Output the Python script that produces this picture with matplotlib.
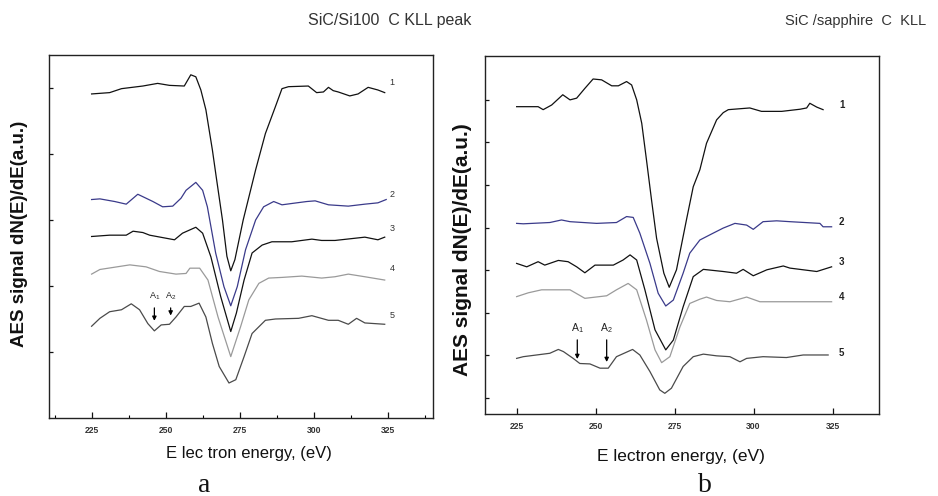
import matplotlib
matplotlib.use('Agg')
import matplotlib.pyplot as plt
from matplotlib.ticker import MultipleLocator

plt.rcParams['font.family'] = ['Liberation Sans', 'DejaVu Sans']
plt.rcParams['mathtext.default'] = 'regular'

# ---- panel a: SiC/Si100, energy (eV) vs dN/dE (a.u.)
a1_x = [224.9, 231.0, 235.0, 242.2, 247.2, 251.2, 256.2, 258.4, 260.1, 261.8,
        263.5, 265.7, 267.0, 269.1, 270.6, 271.9, 273.3, 276.1, 280.3, 283.6,
        287.0, 289.2, 291.4, 298.1, 300.9, 303.2, 304.9, 306.5, 308.2, 312.1,
        314.9, 318.3, 321.6, 323.9]
a1_y = [4.91, 4.93, 4.99, 5.03, 5.07, 5.04, 5.03, 5.20, 5.17, 4.97,
        4.67, 4.06, 3.65, 3.00, 2.45, 2.23, 2.40, 3.00, 3.76, 4.31,
        4.72, 4.99, 5.02, 5.03, 4.93, 4.94, 5.01, 4.96, 4.94, 4.88,
        4.91, 5.01, 4.97, 4.93]
a2_x = [224.9, 227.7, 232.7, 236.6, 240.5, 245.6, 248.9, 252.3, 255.1, 256.8,
        260.1, 262.4, 264.0, 266.8, 269.6, 271.9, 274.1, 276.9, 280.3, 283.0,
        286.4, 289.2, 292.5, 297.6, 300.4, 304.9, 311.6, 317.2, 321.6, 324.4]
a2_y = [3.31, 3.32, 3.28, 3.24, 3.39, 3.28, 3.20, 3.21, 3.33, 3.45,
        3.57, 3.45, 3.20, 2.50, 1.99, 1.70, 1.99, 2.55, 3.00, 3.20,
        3.28, 3.23, 3.25, 3.28, 3.29, 3.23, 3.21, 3.24, 3.26, 3.31]
a3_x = [224.9, 231.0, 236.6, 238.9, 242.2, 244.5, 252.9, 255.6, 260.1, 262.4,
        265.2, 268.5, 271.9, 273.8, 276.4, 279.1, 282.5, 285.8, 292.5, 299.3,
        302.6, 307.1, 317.2, 321.6, 323.9]
a3_y = [2.75, 2.77, 2.77, 2.83, 2.81, 2.77, 2.70, 2.80, 2.89, 2.80,
        2.44, 1.84, 1.31, 1.59, 2.09, 2.50, 2.62, 2.67, 2.67, 2.71,
        2.69, 2.69, 2.74, 2.70, 2.74]
a4_x = [224.9, 227.7, 237.8, 243.3, 247.8, 253.4, 256.8, 258.1, 261.4, 264.2,
        267.6, 271.9, 275.2, 278.0, 281.4, 284.7, 289.2, 295.9, 302.6, 307.1,
        311.6, 317.2, 323.9]
a4_y = [2.18, 2.25, 2.32, 2.29, 2.22, 2.18, 2.19, 2.27, 2.27, 2.09,
        1.53, 0.93, 1.38, 1.79, 2.04, 2.12, 2.13, 2.15, 2.12, 2.14,
        2.18, 2.14, 2.09]
a5_x = [224.9, 227.7, 231.0, 235.0, 238.3, 241.1, 243.9, 246.1, 248.4, 251.2,
        253.4, 256.2, 258.4, 261.2, 263.5, 265.7, 268.0, 271.3, 273.6, 276.4,
        279.1, 283.6, 287.0, 294.8, 299.3, 304.9, 308.2, 311.6, 314.4, 317.2,
        323.9]
a5_y = [1.39, 1.51, 1.61, 1.64, 1.73, 1.64, 1.43, 1.32, 1.41, 1.42,
        1.53, 1.69, 1.69, 1.74, 1.53, 1.13, 0.78, 0.53, 0.58, 0.93,
        1.28, 1.48, 1.50, 1.51, 1.55, 1.48, 1.48, 1.42, 1.51, 1.44,
        1.42]
a_label_y = [5.01, 3.32, 2.80, 2.19, 1.48]
a_arrow_x = [246.1, 251.6]
a_arrow_tip = [1.43, 1.51]
a_arrow_tail = 1.71

# ---- panel b: SiC/sapphire
b1_x = [225.0, 231.8, 233.4, 236.1, 239.6, 241.9, 244.0, 246.6, 249.2, 251.9,
        255.1, 257.2, 259.8, 261.4, 263.0, 264.6, 266.1, 267.7, 269.3, 271.6,
        273.3, 275.6, 278.8, 280.9, 283.0, 285.1, 288.3, 290.4, 292.0, 298.8,
        302.5, 308.9, 314.7, 316.8, 317.8, 320.0, 322.0]
b1_y = [7.84, 7.84, 7.77, 7.88, 8.12, 8.00, 8.04, 8.27, 8.49, 8.47,
        8.33, 8.33, 8.43, 8.35, 8.00, 7.45, 6.59, 5.65, 4.75, 3.93,
        3.60, 4.01, 5.20, 5.96, 6.36, 6.98, 7.53, 7.70, 7.77, 7.81,
        7.73, 7.73, 7.78, 7.81, 7.92, 7.83, 7.77]
b2_x = [225.0, 227.1, 235.5, 239.2, 241.9, 250.3, 256.6, 259.8, 261.9, 264.0,
        267.2, 269.8, 272.2, 274.6, 277.7, 279.8, 283.0, 287.2, 290.4, 294.1,
        297.8, 299.9, 303.0, 307.3, 311.5, 321.0, 322.0, 324.7]
b2_y = [5.10, 5.09, 5.12, 5.18, 5.14, 5.10, 5.12, 5.26, 5.24, 4.87,
        4.16, 3.46, 3.16, 3.30, 3.93, 4.40, 4.71, 4.87, 4.99, 5.10,
        5.06, 4.96, 5.14, 5.16, 5.14, 5.10, 5.02, 5.02]
b3_x = [225.0, 228.2, 231.8, 233.9, 238.2, 241.3, 244.0, 246.6, 249.8, 255.6,
        258.7, 260.9, 263.0, 265.6, 268.8, 272.2, 274.6, 277.7, 280.9, 284.1,
        290.4, 294.6, 296.7, 299.9, 304.2, 309.4, 311.5, 320.0, 324.7]
b3_y = [4.16, 4.08, 4.20, 4.12, 4.23, 4.20, 4.08, 3.94, 4.12, 4.12,
        4.24, 4.36, 4.24, 3.54, 2.60, 2.13, 2.36, 3.14, 3.85, 4.02,
        3.97, 3.93, 4.02, 3.87, 4.01, 4.10, 4.05, 3.97, 4.08]
b4_x = [225.0, 228.7, 232.9, 241.9, 246.6, 253.5, 256.6, 260.3, 263.0, 266.1,
        268.8, 270.9, 273.5, 276.7, 279.8, 283.0, 285.1, 288.3, 292.5, 297.8,
        302.0, 311.5, 315.7, 324.7]
b4_y = [3.38, 3.47, 3.54, 3.54, 3.34, 3.40, 3.54, 3.69, 3.54, 2.83,
        2.13, 1.83, 1.97, 2.67, 3.22, 3.32, 3.37, 3.29, 3.26, 3.37,
        3.26, 3.26, 3.26, 3.26]
b5_x = [225.0, 227.1, 231.3, 235.5, 238.2, 239.8, 242.9, 245.0, 248.2, 251.4,
        254.0, 256.6, 261.7, 264.0, 267.2, 270.3, 271.9, 274.0, 277.7, 280.9,
        284.1, 288.3, 292.5, 295.7, 297.8, 303.0, 310.4, 315.7, 323.6]
b5_y = [1.93, 1.97, 2.01, 2.05, 2.14, 2.09, 1.93, 1.81, 1.80, 1.70,
        1.70, 1.97, 2.14, 2.01, 1.62, 1.19, 1.11, 1.23, 1.74, 1.97,
        2.03, 1.99, 1.97, 1.85, 1.93, 1.97, 1.95, 2.01, 2.01]
b_label_y = [7.88, 5.14, 4.20, 3.38, 2.05]
b_arrow_x = [244.2, 253.5]
b_arrow_tip = [1.85, 1.78]
b_arrow_tail = 2.43

curve_names = ['1', '2', '3', '4', '5']
colors = ['#111111', '#3a3a8a', '#111111', '#9a9a9a', '#4a4a4a']
xticks = [225, 250, 275, 300, 325]

fig = plt.figure(figsize=(9.38, 4.96), dpi=100)
axA = fig.add_axes([0.0522, 0.1573, 0.4094, 0.7318])
axB = fig.add_axes([0.5171, 0.1653, 0.4200, 0.7218])

a_curves = [(a1_x, a1_y), (a2_x, a2_y), (a3_x, a3_y), (a4_x, a4_y), (a5_x, a5_y)]
b_curves = [(b1_x, b1_y), (b2_x, b2_y), (b3_x, b3_y), (b4_x, b4_y), (b5_x, b5_y)]

for (x, y), c in zip(a_curves, colors):
    axA.plot(x, y, color=c, lw=0.9)
for (x, y), c in zip(b_curves, colors):
    axB.plot(x, y, color=c, lw=0.9)

for name, ly in zip(curve_names, a_label_y):
    axA.text(325.5, ly, name, fontsize=6.5, color='#333333', ha='left', va='bottom')
for name, ly in zip(curve_names, b_label_y):
    axB.text(327.0, ly, name, fontsize=7, color='#222222', ha='left', va='center',
             fontweight='bold')

# A1 / A2 arrows
for ax_, xs, tips, tail, fs in [(axA, a_arrow_x, a_arrow_tip, a_arrow_tail, 6.5),
                                (axB, b_arrow_x, b_arrow_tip, b_arrow_tail, 7.5)]:
    for k, (xa, tip) in enumerate(zip(xs, tips)):
        ax_.annotate('', xy=(xa, tip), xytext=(xa, tail),
                     arrowprops=dict(arrowstyle='-|>', color='black', lw=0.9,
                                     mutation_scale=6))
        ax_.text(xa, tail + 0.04, 'A$_{%d}$' % (k + 1), fontsize=fs,
                 color='#222222', ha='center', va='bottom')

axA.set_xlim(210.5, 340.2)
axA.set_ylim(0.0, 5.5)
axA.set_yticks([1, 2, 3, 4, 5])
axA.xaxis.set_minor_locator(MultipleLocator(12.5))

axB.set_xlim(215.0, 339.7)
axB.set_ylim(0.624, 9.03)
axB.set_yticks([1, 2, 3, 4, 5, 6, 7, 8])

for ax_ in (axA, axB):
    ax_.set_xticks(xticks)
    ax_.set_yticklabels([])
    ax_.tick_params(direction='in', length=4, width=0.9, labelsize=6.2,
                    pad=6, colors='#111111')
    ax_.tick_params(which='minor', direction='in', length=2.5, width=0.8)
    ax_.tick_params(axis='y', length=3)
    for lab in ax_.get_xticklabels():
        lab.set_fontweight('bold')
        lab.set_color('#333333')
    for sp in ax_.spines.values():
        sp.set_linewidth(1.0)
        sp.set_color('#222222')

fig.text(0.265, 0.085, 'E lec tron energy, (eV)', fontsize=12, color='#111111',
         ha='center', va='center')
fig.text(0.726, 0.079, 'E lectron energy, (eV)', fontsize=12.5, color='#111111',
         ha='center', va='center')
fig.text(0.021, 0.528, 'AES signal dN(E)/dE(a.u.)', fontsize=13.5, fontweight='bold',
         rotation=90, ha='center', va='center', color='#111111')
fig.text(0.4936, 0.496, 'AES signal dN(E)/dE(a.u.)', fontsize=15, fontweight='bold',
         rotation=90, ha='center', va='center', color='#111111')

fig.text(0.328, 0.958, 'SiC/Si100  C KLL peak', fontsize=11.5, color='#333333',
         ha='left', va='center')
fig.text(0.837, 0.958, 'SiC /sapphire  C  KLL', fontsize=10.5, color='#333333',
         ha='left', va='center')

fig.text(0.2175, 0.009, 'a', fontsize=20, family='Liberation Serif', ha='center',
         va='baseline', color='#111111')
fig.text(0.7516, 0.009, 'b', fontsize=20, family='Liberation Serif', ha='center',
         va='baseline', color='#111111')

fig.savefig('out.png', dpi=100)
